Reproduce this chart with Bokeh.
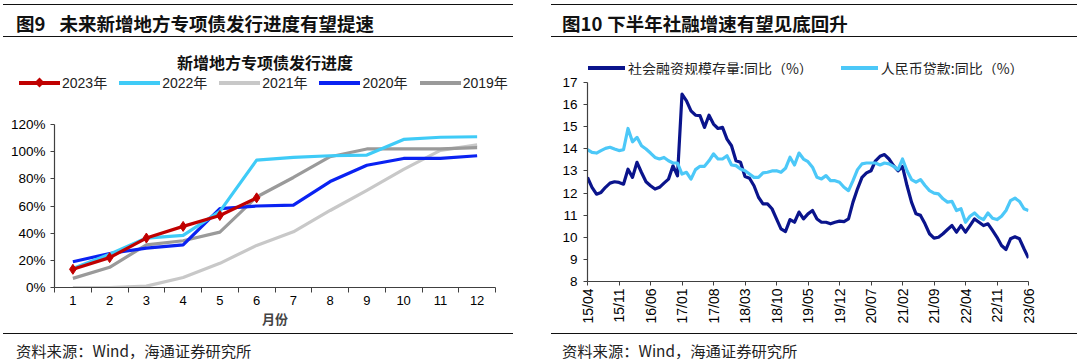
import pandas as pd
from bokeh.plotting import figure
from bokeh.models import Range1d, FixedTicker, PrintfTickFormatter, Div
from bokeh.layouts import row, column
from bokeh.embed import file_html
from bokeh.resources import INLINE

# ---------------- data: left chart (issuance progress, %) ----------------
months = [1, 2, 3, 4, 5, 6, 7, 8, 9, 10, 11, 12]
y2023 = [13.4, 22.0, 36.4, 45.0, 53.0, 66.0]
y2022 = [14.0, 24.5, 36.4, 38.4, 56.0, 93.8, 95.8, 97.0, 97.5, 109.0, 110.6, 111.0]
y2021 = [0.0, 0.0, 1.0, 7.4, 17.8, 31.0, 41.0, 56.7, 71.5, 87.0, 101.0, 105.0]
y2020 = [19.0, 25.0, 29.0, 31.4, 58.0, 60.0, 60.6, 78.0, 90.0, 95.0, 95.0, 97.0]
y2019 = [6.7, 14.9, 31.4, 34.4, 40.8, 66.6, 81.0, 96.3, 102.0, 102.0, 102.0, 103.0]
left_series = ["2023年", "2022年", "2021年", "2020年", "2019年"]
left_colors = ["#C00000", "#3FCBF7", "#C8C8C8", "#0A22F2", "#9A9A9A"]
left_yticks = [0, 20, 40, 60, 80, 100, 120]

# ---------------- data: right chart (yoy, %) ----------------
periods = pd.period_range("2015-04", "2023-06", freq="M")
month_labels = [p.strftime("%y/%m") for p in periods]
tsf = [12.71, 12.26, 11.95, 12.03, 12.26, 12.45, 12.51, 12.48, 12.40, 13.08,
       12.71, 13.39, 12.93, 12.51, 12.33, 12.18, 12.26, 12.45, 12.63, 13.23,
       12.78, 16.47, 16.17, 15.72, 15.52, 15.50, 14.97, 15.52, 15.12, 14.92,
       14.97, 14.44, 14.14, 13.46, 13.39, 12.75, 12.67, 12.33, 11.81, 11.51,
       11.51, 11.29, 10.83, 10.38, 10.26, 10.80, 10.68, 11.14, 10.83, 11.06,
       11.21, 10.83, 10.68, 10.68, 10.61, 10.68, 10.73, 10.71, 10.83, 11.59,
       12.19, 12.71, 12.91, 13.01, 13.46, 13.66, 13.74, 13.54, 13.24, 13.01,
       13.20, 12.34, 11.59, 11.06, 10.99, 10.61, 10.16, 9.96, 10.00, 10.16,
       10.35, 10.53, 10.23, 10.53, 10.23, 10.53, 10.83, 10.68, 10.53, 10.61,
       10.31, 10.00, 9.63, 9.45, 9.93, 10.02, 9.93, 9.48, 9.06]
loans = [13.96, 13.84, 13.81, 13.92, 14.02, 14.07, 13.99, 13.92, 13.96, 14.92,
         14.32, 14.52, 14.14, 13.99, 13.81, 13.61, 13.54, 13.61, 13.46, 13.36,
         13.36, 12.86, 12.94, 12.63, 13.06, 13.21, 13.21, 13.46, 13.77, 13.54,
         13.54, 13.69, 13.27, 13.24, 13.09, 13.01, 12.86, 12.71, 12.71, 12.91,
         12.94, 13.00, 13.01, 12.94, 13.12, 13.62, 13.27, 13.81, 13.54, 13.42,
         13.17, 12.71, 12.64, 12.79, 12.56, 12.56, 12.49, 12.26, 12.11, 12.56,
         13.06, 13.32, 13.36, 13.36, 13.36, 13.27, 13.36, 13.32, 13.21, 13.06,
         13.54, 13.01, 12.61, 12.49, 12.61, 12.34, 12.11, 12.00, 11.96, 11.74,
         11.59, 11.62, 11.21, 11.29, 10.68, 10.95, 11.10, 10.90, 10.80, 11.10,
         10.86, 10.80, 10.95, 11.21, 11.66, 11.77, 11.62, 11.29, 11.21]
right_series = ["社会融资规模存量:同比（%）", "人民币贷款:同比（%）"]
right_colors = ["#0A148C", "#4CC8F8"]
right_yticks = [8, 9, 10, 11, 12, 13, 14, 15, 16, 17]
month_idx = list(range(len(month_labels)))
right_xticks = month_idx[::7]

CJK = "Noto Sans CJK SC"
LAT = "Liberation Sans, Noto Sans CJK SC"
AXC = "#404040"


def style_axes(p):
    p.xgrid.visible = False
    p.ygrid.visible = False
    p.outline_line_color = None
    for ax in (p.xaxis[0], p.yaxis[0]):
        ax.axis_line_color = AXC
        ax.axis_line_width = 1.2
        ax.major_tick_line_color = AXC
        ax.minor_tick_line_color = AXC
        ax.major_label_text_color = "#000000"
        ax.major_label_text_font = LAT
        ax.major_label_text_font_size = "13px"


# ---------------- left figure ----------------
pl = figure(width=540, height=233, output_backend="svg", toolbar_location=None,
            x_range=Range1d(0.5, 12.5), y_range=Range1d(0, 120),
            min_border_left=54, min_border_right=45, min_border_top=24, min_border_bottom=46)
pl.title = None
style_axes(pl)
pl.xaxis.ticker = FixedTicker(ticks=months, minor_ticks=[m + 0.5 for m in [0] + months])
pl.xaxis.major_tick_out = 0
pl.xaxis.major_tick_in = 0
pl.xaxis.minor_tick_out = 5
pl.xaxis.minor_tick_in = 0
pl.xaxis.major_label_standoff = 3
pl.xaxis.axis_label = "月份"
pl.xaxis.axis_label_text_font = CJK
pl.xaxis.axis_label_text_font_style = "bold"
pl.xaxis.axis_label_text_font_size = "13px"
pl.xaxis.axis_label_standoff = 1
pl.yaxis.ticker = FixedTicker(ticks=left_yticks, minor_ticks=[])
pl.yaxis.formatter = PrintfTickFormatter(format="%d%%")
pl.yaxis.major_label_text_font_size = "13.5px"
pl.yaxis.major_tick_out = 4
pl.yaxis.major_tick_in = 0
pl.yaxis.major_label_standoff = 5

lw = 3.2
c23, c22, c21, c20, c19 = left_colors
pl.line(months, y2021, color=c21, line_width=lw, line_join="round")
pl.line(months, y2019, color=c19, line_width=lw, line_join="round")
pl.line(months, y2020, color=c20, line_width=lw, line_join="round")
pl.line(months, y2022, color=c22, line_width=lw, line_join="round")
pl.line(months[:len(y2023)], y2023, color=c23, line_width=lw, line_join="round")
pl.scatter(months[:len(y2023)], y2023, marker="diamond", size=10, color=c23)

# ---------------- right figure ----------------
pr = figure(width=540, height=259, output_backend="svg", toolbar_location=None,
            x_range=Range1d(0, len(month_idx) - 1), y_range=Range1d(8, 17),
            min_border_left=47, min_border_right=52, min_border_top=8, min_border_bottom=52)
pr.title = None
style_axes(pr)
pr.xaxis.ticker = FixedTicker(ticks=right_xticks, minor_ticks=[])
pr.xaxis.major_label_overrides = {i: month_labels[i] for i in right_xticks}
pr.xaxis.major_label_orientation = 3.14159265 / 2
pr.xaxis.major_label_text_font_size = "14px"
pr.xaxis.major_tick_out = 4
pr.xaxis.major_tick_in = 0
pr.xaxis.major_label_standoff = 3
pr.yaxis.ticker = FixedTicker(ticks=right_yticks, minor_ticks=[])
pr.yaxis.major_label_text_font_size = "13.5px"
pr.yaxis.major_tick_out = 4
pr.yaxis.major_tick_in = 0
pr.yaxis.major_label_standoff = 6

pr.line(month_idx, tsf, color=right_colors[0], line_width=3.2, line_join="round")
pr.line(month_idx, loans, color=right_colors[1], line_width=3.2, line_join="round")

# ---------------- header / legend / footer blocks ----------------
RULE = "1.6px solid #111"


def legend_html(labels, colors, left, top, glyph_w, standoff, gap, font, marker_first=False):
    items = []
    for k, (lab, col) in enumerate(zip(labels, colors)):
        mark = ""
        if marker_first and k == 0:
            mark = (f'<div style="position:absolute;left:{glyph_w/2-3.5}px;top:-2px;width:7px;height:7px;'
                    f'background:{col};transform:rotate(45deg);"></div>')
        items.append(
            f'<div style="display:flex;align-items:center;margin-right:{gap}px;">'
            f'<div style="position:relative;width:{glyph_w}px;height:3.2px;background:{col};'
            f'margin-right:{standoff}px;">{mark}</div>'
            f'<span style="font-family:{font};font-size:14px;color:#222;white-space:nowrap;">{lab}</span></div>')
    return (f'<div style="position:absolute;left:{left}px;top:{top}px;height:16px;line-height:16px;'
            f'display:flex;align-items:center;">' + "".join(items) + '</div>')


def header(width, height, rule_left, rule_width, title_left, num, text, gap, extra=""):
    return Div(text=(
        f'<div style="position:relative;width:{width}px;height:{height}px;">'
        f'<div style="position:absolute;left:{rule_left}px;top:4px;width:{rule_width}px;height:33px;'
        f'border-top:{RULE};border-bottom:{RULE};"></div>'
        f'<div style="position:absolute;left:{title_left}px;top:5px;height:36px;line-height:36px;white-space:nowrap;'
        f'font-family:\'{CJK}\';font-weight:bold;font-size:18.5px;color:#111;">'
        f'<span style="margin-right:{gap}px;">{num}</span>{text}</div>'
        f'{extra}</div>'), width=width, height=height, margin=0)


def footer(width, rule_left, rule_width, text_left):
    return Div(text=(
        f'<div style="position:relative;width:{width}px;height:29px;">'
        f'<div style="position:absolute;left:{rule_left}px;top:0px;width:{rule_width}px;border-top:{RULE};"></div>'
        f'<div style="position:absolute;left:{text_left}px;top:7px;line-height:20px;white-space:nowrap;'
        f'font-family:\'{CJK}\';font-size:15.3px;color:#222;">资料来源：Wind，海通证券研究所</div>'
        f'</div>'), width=width, height=29, margin=0)


sub_l = (f'<div style="position:absolute;left:0px;top:52px;width:530px;text-align:center;'
         f'font-family:\'{CJK}\';font-weight:bold;font-size:16px;line-height:20px;color:#111;">新增地方专项债发行进度</div>')
leg_l = legend_html(left_series, left_colors, 19, 75, 41, 2, 12, "Liberation Sans, 'Noto Sans CJK SC'", marker_first=True)
leg_r = legend_html(right_series, right_colors, 48, 60, 37, 3, 28, f"'{CJK}'")

hl = header(540, 100, 3, 510, 16, "图9", "未来新增地方专项债发行进度有望提速", 14, sub_l + leg_l)
fl = footer(540, 3, 510, 16)
hr = header(540, 74, 11, 526, 22, "图10", "下半年社融增速有望见底回升", 5, leg_r)
fr = footer(540, 11, 526, 22)

left = column(hl, pl, fl, spacing=0)
right = column(hr, pr, fr, spacing=0)
layout = row(left, right, spacing=0)

open("out.html", "w").write(file_html(layout, INLINE))
